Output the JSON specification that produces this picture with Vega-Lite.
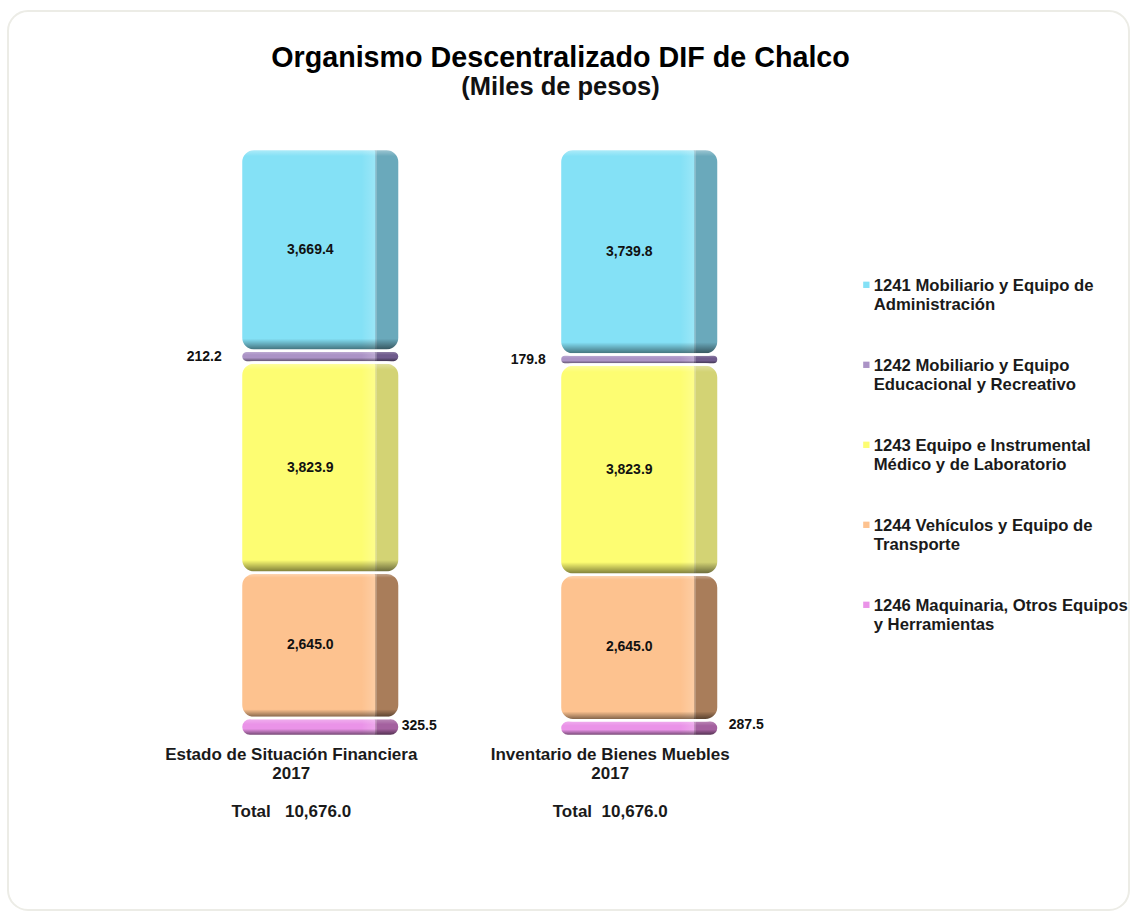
{
"$schema":"https://vega.github.io/schema/vega-lite/v6.json",
"width":1121,"height":899,
"autosize":{"type":"none"},
"padding":{"left":8,"top":11,"right":2,"bottom":2},
"background":"white",
"config":{"view":{"stroke":"#ecece6","strokeWidth":2,"cornerRadius":20,"fill":"white"},"font":"Liberation Sans"},
"title":{"text":"Organismo Descentralizado DIF de Chalco","subtitle":"(Miles de pesos)","anchor":"middle","frame":"group","dx":-8,"offset":-89,"font":"Liberation Sans","fontSize":28.7,"fontWeight":"bold","color":"#000000","subtitleFont":"Liberation Sans","subtitleFontSize":25.5,"subtitleFontWeight":"bold","subtitleColor":"#111111","subtitlePadding":2},
"data":{"values":[
{"documento":"Estado de Situación Financiera","cuenta":"1241 Mobiliario y Equipo de Administración","valor":3669.4},
{"documento":"Estado de Situación Financiera","cuenta":"1242 Mobiliario y Equipo Educacional y Recreativo","valor":212.2},
{"documento":"Estado de Situación Financiera","cuenta":"1243 Equipo e Instrumental Médico y de Laboratorio","valor":3823.9},
{"documento":"Estado de Situación Financiera","cuenta":"1244 Vehículos y Equipo de Transporte","valor":2645.0},
{"documento":"Estado de Situación Financiera","cuenta":"1246 Maquinaria, Otros Equipos y Herramientas","valor":325.5},
{"documento":"Inventario de Bienes Muebles","cuenta":"1241 Mobiliario y Equipo de Administración","valor":3739.8},
{"documento":"Inventario de Bienes Muebles","cuenta":"1242 Mobiliario y Equipo Educacional y Recreativo","valor":179.8},
{"documento":"Inventario de Bienes Muebles","cuenta":"1243 Equipo e Instrumental Médico y de Laboratorio","valor":3823.9},
{"documento":"Inventario de Bienes Muebles","cuenta":"1244 Vehículos y Equipo de Transporte","valor":2645.0},
{"documento":"Inventario de Bienes Muebles","cuenta":"1246 Maquinaria, Otros Equipos y Herramientas","valor":287.5}
]},
"transform":[
{"stack":"valor","groupby":["documento"],"sort":[{"field":"cuenta","order":"descending"}],"as":["y0","y1"]},
{"calculate":"(datum.y0+datum.y1)/2","as":"medio"}
],
"encoding":{
"x":{"field":"documento","type":"nominal","title":null,
 "scale":{"range":[233,710.5],"paddingInner":0.503,"paddingOuter":0},
 "axis":{"orient":"bottom","offset":-165,"domain":false,"ticks":false,"labelAngle":0,"labelOffset":-29,"labelPadding":1,"labelFont":"Liberation Sans","labelFontSize":17,"labelFontWeight":"bold","labelColor":"#1a1a1a","labelLineHeight":19,"labelLimit":400,"labelBaseline":"top",
  "labelExpr":"datum.label=='Estado de Situación Financiera'?['Estado de Situación Financiera','2017','\u2800','Total\u00a0\u00a0\u00a010,676.0']:['Inventario de Bienes Muebles','2017','\u2800','Total\u00a0\u00a010,676.0']"}}
},
"layer":[
{"mark":{"type":"bar","cornerRadius":13},
 "encoding":{"y":{"field":"y0","type":"quantitative","title":null,"scale":{"domain":[-3165,13186],"nice":false,"zero":false},"axis":null},"y2":{"field":"y1"},
  "fill":{"field":"cuenta","type":"nominal","legend":null,"scale":{"range":["#6aa9bb","#6f5b8c","#d3d374","#a97d5a","#a4619f"]}}}},
{"mark":{"type":"bar","width":134,"xOffset":-12,"cornerRadiusTopLeft":13,"cornerRadiusBottomLeft":13,"cornerRadiusTopRight":3,"cornerRadiusBottomRight":3},
 "encoding":{"y":{"field":"y0","type":"quantitative"},"y2":{"field":"y1"},
  "color":{"field":"cuenta","type":"nominal","scale":{"range":["#84e1f6","#ab93c6","#fdfd72","#fdc28f","#ea93e8"]},
   "legend":{"orient":"none","legendX":850,"legendY":258.5,"title":null,"padding":0,"columns":1,"symbolType":"M-1,1.2H1V3.2H-1Z","symbolSize":40,"symbolStrokeWidth":0,"labelOffset":-1,"rowPadding":36,"labelFont":"Liberation Sans","labelFontSize":16.7,"labelFontWeight":"bold","labelColor":"#1a1a1a","labelLimit":400,"labelLineHeight":19,"labelBaseline":"top",
   "labelExpr":"datum.label=='1241 Mobiliario y Equipo de Administración'?['1241 Mobiliario y Equipo de','Administración']:datum.label=='1242 Mobiliario y Equipo Educacional y Recreativo'?['1242 Mobiliario y Equipo','Educacional y Recreativo']:datum.label=='1243 Equipo e Instrumental Médico y de Laboratorio'?['1243 Equipo e Instrumental','Médico y de Laboratorio']:datum.label=='1244 Vehículos y Equipo de Transporte'?['1244 Vehículos y Equipo de','Transporte']:['1246 Maquinaria, Otros Equipos','y Herramientas']"}}}},
{"mark":{"type":"bar","cornerRadius":13,"fill":{"gradient":"linear","x1":0,"y1":0,"x2":1,"y2":0,"stops":[{"offset":0,"color":"rgba(255,255,255,0)"},{"offset":0.76,"color":"rgba(255,255,255,0)"},{"offset":0.855,"color":"rgba(255,255,255,0.2)"},{"offset":0.86,"color":"rgba(255,255,255,0)"},{"offset":1,"color":"rgba(255,255,255,0)"}]}},
 "encoding":{"y":{"field":"y0","type":"quantitative"},"y2":{"field":"y1"}}},
{"transform":[{"filter":"datum.valor>1000"}],
 "mark":{"type":"bar","cornerRadius":13,"fill":{"gradient":"linear","x1":0,"y1":0,"x2":0,"y2":1,"stops":[{"offset":0,"color":"rgba(255,255,255,0.4)"},{"offset":0.035,"color":"rgba(255,255,255,0)"},{"offset":0.94,"color":"rgba(0,0,0,0)"},{"offset":1,"color":"rgba(0,0,0,0.55)"}]}},
 "encoding":{"y":{"field":"y0","type":"quantitative"},"y2":{"field":"y1"}}},
{"transform":[{"filter":"datum.valor<1000"}],
 "mark":{"type":"bar","cornerRadius":13,"fill":{"gradient":"linear","x1":0,"y1":0,"x2":0,"y2":1,"stops":[{"offset":0,"color":"rgba(255,255,255,0.3)"},{"offset":0.35,"color":"rgba(255,255,255,0)"},{"offset":0.6,"color":"rgba(0,0,0,0)"},{"offset":1,"color":"rgba(0,0,0,0.6)"}]}},
 "encoding":{"y":{"field":"y0","type":"quantitative"},"y2":{"field":"y1"}}},
{"mark":{"type":"bar","cornerRadius":13,"fillOpacity":0,"stroke":"white","strokeWidth":2.5},
 "encoding":{"y":{"field":"y0","type":"quantitative"},"y2":{"field":"y1"}}},
{"transform":[{"filter":"datum.valor>1000"}],
 "mark":{"type":"text","xOffset":-10,"font":"Liberation Sans","fontSize":14,"fontWeight":"bold","color":"#111111"},
 "encoding":{"y":{"field":"medio","type":"quantitative"},"text":{"field":"valor","type":"quantitative","format":",.1f"}}},
{"transform":[{"filter":"datum.valor==212.2"}],
 "mark":{"type":"text","xOffset":-116,"font":"Liberation Sans","fontSize":14,"fontWeight":"bold","color":"#111111"},
 "encoding":{"y":{"field":"medio","type":"quantitative"},"text":{"field":"valor","type":"quantitative","format":",.1f"}}},
{"transform":[{"filter":"datum.valor==179.8"}],
 "mark":{"type":"text","xOffset":-111,"font":"Liberation Sans","fontSize":14,"fontWeight":"bold","color":"#111111"},
 "encoding":{"y":{"field":"medio","type":"quantitative"},"text":{"field":"valor","type":"quantitative","format":",.1f"}}},
{"transform":[{"filter":"datum.valor==325.5"}],
 "mark":{"type":"text","xOffset":99,"yOffset":-1,"font":"Liberation Sans","fontSize":14,"fontWeight":"bold","color":"#111111"},
 "encoding":{"y":{"field":"medio","type":"quantitative"},"text":{"field":"valor","type":"quantitative","format":",.1f"}}},
{"transform":[{"filter":"datum.valor==287.5"}],
 "mark":{"type":"text","xOffset":107,"yOffset":-3,"font":"Liberation Sans","fontSize":14,"fontWeight":"bold","color":"#111111"},
 "encoding":{"y":{"field":"medio","type":"quantitative"},"text":{"field":"valor","type":"quantitative","format":",.1f"}}}
]
}
